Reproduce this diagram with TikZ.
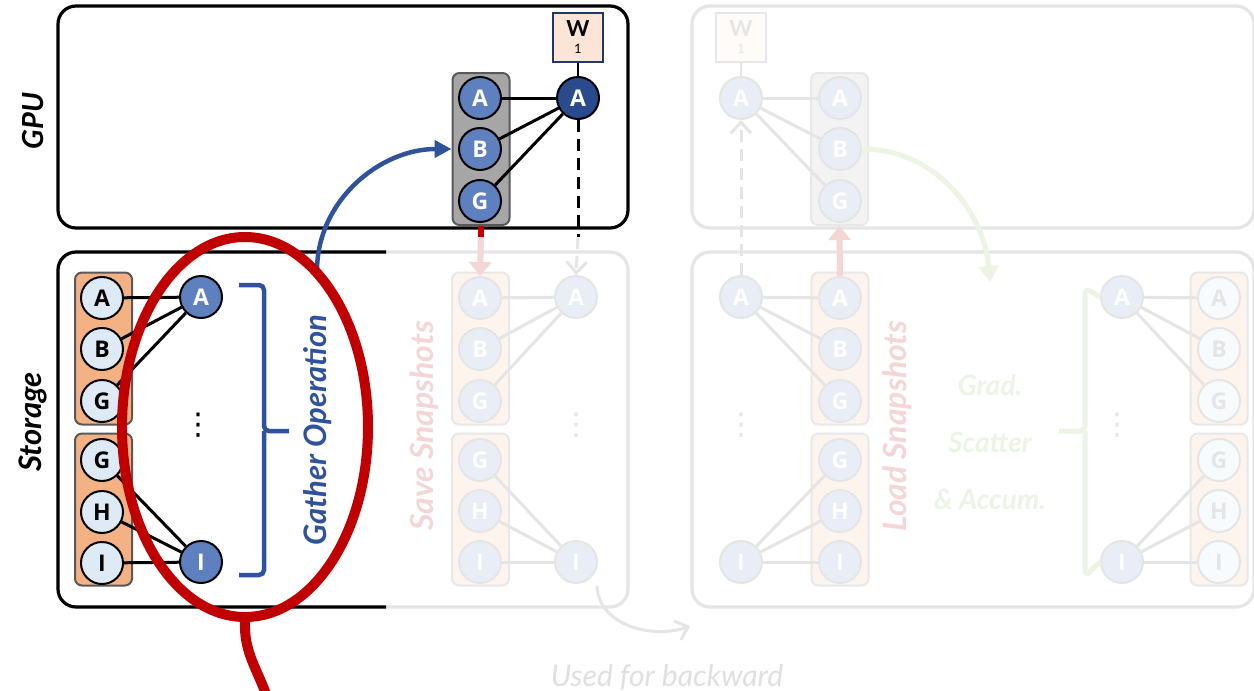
\documentclass[tikz,border=0pt]{standalone}
\usepackage{fontspec}
\setmainfont{Lato}
\newfontfamily\letterfont{Open Sans}
\newfontfamily\symfont{DejaVu Sans}
\usetikzlibrary{arrows.meta,shapes.geometric}

% base palette
\definecolor{cLine}{HTML}{000000}
\definecolor{cText}{HTML}{000000}
\definecolor{cBlue}{HTML}{5F80BF}
\definecolor{cNavy}{HTML}{2A4A8E}
\definecolor{cPale}{HTML}{DEEBF7}
\definecolor{cOrange}{HTML}{F4B183}
\definecolor{cGray}{HTML}{A6A6A6}
\definecolor{cEdge}{HTML}{595959}
\definecolor{cPeach}{HTML}{FCE4D6}
\definecolor{cWEdge}{HTML}{1F3864}
\definecolor{cRed}{HTML}{C00000}
\definecolor{cGreen}{HTML}{70AD47}
\definecolor{cArrow}{HTML}{2F529C}
\definecolor{cWhite}{HTML}{FFFFFF}
\definecolor{cMuted}{HTML}{000000}

% washed-out versions of the palette for the later stages
\newcommand\washout{%
  \colorlet{cLine}{black!10!white}%
  \colorlet{cText}{black!10!white}%
  \colorlet{cBlue}{cBlue!14!white}%
  \colorlet{cNavy}{cNavy!14!white}%
  \colorlet{cPale}{cPale!20!white}%
  \colorlet{cOrange}{cOrange!14!white}%
  \colorlet{cGray}{cGray!14!white}%
  \colorlet{cEdge}{cEdge!14!white}%
  \colorlet{cPeach}{cPeach!14!white}%
  \colorlet{cWEdge}{cWEdge!12!white}%
  \colorlet{cRed}{cRed!16!white}%
  \colorlet{cGreen}{cGreen!14!white}%
  \colorlet{cMuted}{black!12!white}%
}

\tikzset{
  panel/.style={draw=cLine, line width=3.2pt, rounded corners=18pt},
  disc/.style={circle, draw=cLine, line width=2pt, minimum size=42pt, inner sep=0pt,
    font=\letterfont\bfseries\fontsize{23}{23}\selectfont},
  bluedisc/.style={disc, fill=cBlue, text=cWhite},
  navydisc/.style={disc, fill=cNavy, text=cWhite},
  paledisc/.style={disc, fill=cPale, text=cText},
  stackbox/.style={rectangle, rounded corners=7pt, line width=2pt,
    minimum width=57pt, minimum height=152pt, inner sep=0pt},
  orangestack/.style={stackbox, fill=cOrange, draw=cEdge},
  graystack/.style={stackbox, fill=cGray, draw=cEdge},
  link/.style={draw=cLine, line width=3pt},
  dashlink/.style={draw=cLine, line width=3pt, dash pattern=on 12pt off 7pt},
  openhead/.style={-{Straight Barb[length=11pt,width=20pt,line width=3pt]}},
  wbox/.style={rectangle, draw=cWEdge, fill=cPeach, line width=2pt,
    minimum width=50pt, minimum height=49pt, inner sep=0pt, align=center},
  vlabel/.style={rotate=90, font=\bfseries\itshape\fontsize{29}{29}\selectfont},
  dotsnode/.style={text=cLine, font=\symfont\fontsize{30}{30}\selectfont, inner sep=0pt},
  redlink/.style={draw=cRed, line width=6pt},
  redhead/.style={-{Triangle[length=14pt,width=22pt]}},
  steptext/.style={text=cGreen, font=\bfseries\itshape\fontsize{28}{28}\selectfont},
}

% text of the weight boxes
\newcommand\wlabel{\fontsize{22}{22}\selectfont\bfseries W\\[5pt]\fontsize{13}{13}\selectfont 1}

\begin{document}
\begin{tikzpicture}[x=1pt,y=-1pt]
\clip (0,0) rectangle (1254,691);
\fill[white] (0,0) rectangle (1254,691);

% ================= washed-out stages =================
\begin{scope}
\washout
% storage frame (full outline, left part is redrawn dark later)
\draw[panel] (58,252) rectangle (628,607);

% --- saved snapshots in the first storage frame
\node[orangestack] (ms1) at (480.5,348.5) {};
\node[orangestack] (ms2) at (480.5,509.5) {};
\node[bluedisc] (mA) at (480,298) {A};
\node[bluedisc] (mB) at (480,349) {B};
\node[bluedisc] (mG) at (480,401) {G};
\node[bluedisc] (mG2) at (480,460) {G};
\node[bluedisc] (mH) at (480,511) {H};
\node[bluedisc] (mI) at (480,562) {I};
\node[bluedisc] (rA) at (576,297) {A};
\node[bluedisc] (rI) at (576,562) {I};
\node[dotsnode] (rdots) at (576,425) {⋮};
\draw[link] (mA) -- (rA);
\draw[link] (mB) -- (rA);
\draw[link] (mG) -- (rA);
\draw[link] (mG2) -- (rI);
\draw[link] (mH) -- (rI);
\draw[link] (mI) -- (rI);
\node[vlabel, text=cRed, font=\bfseries\itshape\fontsize{32}{32}\selectfont] (save) at (424,426) {Save Snapshots};

% continuation of the arrows from the GPU
\coordinate (redEnd) at (481,237);
\coordinate (dashEnd) at (578,237);
\draw[redlink, redhead] (redEnd) -- (mA.north);
\draw[dashlink, openhead] (dashEnd) -- (rA.north);

% used-for-backward arrow
\coordinate (backStart) at (597,586);
\coordinate (backEnd) at (690,626);
\draw[draw=cLine, line width=3pt, openhead] (backStart) to[out=-88,in=200] (backEnd);
\node[text=cMuted, font=\itshape\fontsize{30}{30}\selectfont] (usedtxt) at (667,677) {Used for backward};

% --- backward stage: GPU panel
\draw[panel] (692,6) rectangle (1254,228);
\node[wbox, text=cText] (w2) at (741,37) {\wlabel};
\node[bluedisc] (bA) at (741,98) {A};
\node[graystack] (bstack) at (839.5,149) {};
\node[bluedisc] (bsA) at (840,98) {A};
\node[bluedisc] (bsB) at (840,149) {B};
\node[bluedisc] (bsG) at (840,201) {G};
\draw[link, line width=2pt] (w2) -- (bA);
\draw[link] (bA) -- (bsA);
\draw[link] (bA) -- (bsB);
\draw[link] (bA) -- (bsG);

% --- backward stage: storage panel
\draw[panel] (692,252) rectangle (1254,607);
\node[bluedisc] (lA) at (741,297) {A};
\node[bluedisc] (lI) at (741,562) {I};
\node[dotsnode] (ldots) at (741,425) {⋮};
\node[orangestack] (ls1) at (840,348.5) {};
\node[orangestack] (ls2) at (840,509.5) {};
\node[bluedisc] (lsA) at (840,298) {A};
\node[bluedisc] (lsB) at (840,349) {B};
\node[bluedisc] (lsG) at (840,401) {G};
\node[bluedisc] (lsG2) at (840,460) {G};
\node[bluedisc] (lsH) at (840,511) {H};
\node[bluedisc] (lsI) at (840,562) {I};
\draw[link] (lA) -- (lsA);
\draw[link] (lA) -- (lsB);
\draw[link] (lA) -- (lsG);
\draw[link] (lI) -- (lsG2);
\draw[link] (lI) -- (lsH);
\draw[link] (lI) -- (lsI);
\draw[dashlink, openhead] (lA.north) -- (bA.south);
\draw[redlink, redhead] (lsA.north) -- (bstack.south);
\node[vlabel, text=cRed, font=\bfseries\itshape\fontsize{32}{32}\selectfont] (load) at (897,426) {Load Snapshots};

% gradient scatter
\node[steptext] (grad) at (990,385) {Grad.};
\node[steptext] (scatter) at (990,442) {Scatter};
\node[steptext] (accum) at (990,499) {\& Accum.};
\draw[draw=cGreen, line width=5pt, -{Triangle[length=16pt,width=20pt]}]
  (bsB.east) to[out=0,in=95] (990,282);

\node[bluedisc] (gA) at (1122,297) {A};
\node[bluedisc] (gI) at (1122,562) {I};
\node[dotsnode] (gdots) at (1117,425) {⋮};
\node[orangestack] (gs1) at (1219,348.5) {};
\node[orangestack] (gs2) at (1219,509.5) {};
\node[paledisc] (gsA) at (1219,298) {A};
\node[paledisc] (gsB) at (1219,349) {B};
\node[paledisc] (gsG) at (1219,401) {G};
\node[paledisc] (gsG2) at (1219,460) {G};
\node[paledisc] (gsH) at (1219,511) {H};
\node[paledisc] (gsI) at (1219,562) {I};
\draw[link] (gA) -- (gsA);
\draw[link] (gA) -- (gsB);
\draw[link] (gA) -- (gsG);
\draw[link] (gI) -- (gsG2);
\draw[link] (gI) -- (gsH);
\draw[link] (gI) -- (gsI);
\draw[draw=cGreen, line width=5pt, rounded corners=6pt]
  (gA.west) -- (1085,288) -- (1085,431) -- (1059,431)
  (1085,431) -- (1085,576) -- (gI.west);
\end{scope}

% ================= gather stage =================
\node[vlabel] (gpulbl) at (33,121) {GPU};
\node[vlabel, font=\bfseries\itshape\fontsize{31}{31}\selectfont] (storelbl) at (33,422) {Storage};

% GPU panel
\draw[panel] (58,6) rectangle (628,228);
\node[graystack] (gstack) at (481,149) {};
\node[bluedisc] (sA) at (480,98) {A};
\node[bluedisc] (sB) at (480,149) {B};
\node[bluedisc] (sG) at (480,201) {G};
\node[navydisc] (da) at (578,98) {A};
\node[wbox] (w1) at (578,37) {\wlabel};
\draw[link, line width=2pt] (w1) -- (da);
\draw[link] (sA) -- (da);
\draw[link] (sB) -- (da);
\draw[link] (sG) -- (da);
\draw[dashlink] (da.south) -- (dashEnd);
\draw[redlink] (gstack.south) -- (redEnd);

% storage frame, left part
\draw[panel] (386,252) -- (58,252) -- (58,607) -- (386,607);
\node[orangestack] (os1) at (103.5,348.5) {};
\node[orangestack] (os2) at (103.5,509.5) {};
\node[paledisc] (pA) at (102,298) {A};
\node[paledisc] (pB) at (102,349) {B};
\node[paledisc] (pG) at (102,401) {G};
\node[paledisc] (pG2) at (102,460) {G};
\node[paledisc] (pH) at (102,512) {H};
\node[paledisc] (pI) at (102,563) {I};
\node[bluedisc] (cA) at (201,297) {A};
\node[bluedisc] (cI) at (201,562) {I};
\node[dotsnode] (cdots) at (198,425) {⋮};
\draw[link] (pA) -- (cA);
\draw[link] (pB) -- (cA);
\draw[link] (pG) -- (cA);
\draw[link] (pG2) -- (cI);
\draw[link] (pH) -- (cI);
\draw[link] (pI) -- (cI);

% gather bracket and label
\draw[draw=cArrow, line width=4.5pt, rounded corners=5pt]
  (239,285) -- (264,285) -- (264,431) -- (289,431)
  (264,431) -- (264,575) -- (239,575);
\node[vlabel, text=cArrow, font=\itshape\bfseries\fontsize{31}{31}\selectfont] (gather) at (318,430) {Gather Operation};

% gather arrow up to the GPU
\coordinate (gatherStart) at (317,271);
\draw[draw=cArrow, line width=4.5pt, -{Triangle[length=17pt,width=17pt]}]
  (gatherStart) to[out=90,in=180] (gstack.west |- sB);

% highlight
\node[ellipse, draw=cRed, line width=10pt, minimum width=246pt, minimum height=380pt, inner sep=0pt] (hl) at (245,427) {};
\coordinate (tailEnd) at (268,700);
\draw[draw=cRed, line width=10pt] (hl.south) to[out=-92,in=108] (tailEnd);
\end{tikzpicture}
\end{document}
